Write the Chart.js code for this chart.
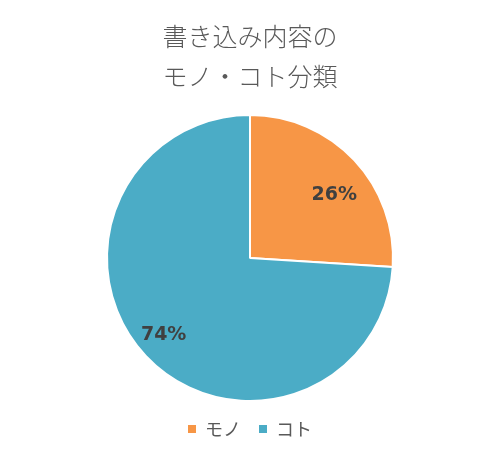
<!DOCTYPE html>
<html><head><meta charset="utf-8">
<script src="https://cdn.jsdelivr.net/npm/chart.js@4"></script>
<style>html,body{margin:0;padding:0;background:#fff}#wrap{width:500px;height:460px}</style>
</head><body><div id="wrap"><canvas id="c"></canvas></div>
<script>
const categories = ['モノ', 'コト'];
const values = [26, 74];
const colors = ['#F79646', '#4BACC6'];
const titleLines = ['書き込み内容の', 'モノ・コト分類'];
const jpFont = "'Noto Sans CJK JP', 'Noto Sans', sans-serif";

const labelPlugin = {
  id: 'sliceLabels',
  afterDatasetsDraw(chart) {
    const ctx = chart.ctx;
    const meta = chart.getDatasetMeta(0);
    const total = values.reduce((a, b) => a + b, 0);
    ctx.save();
    ctx.font = "bold 19px 'DejaVu Sans', sans-serif";
    ctx.fillStyle = '#404040';
    ctx.textAlign = 'center';
    ctx.textBaseline = 'middle';
    meta.data.forEach((arc, i) => {
      const p = arc.getProps(['x', 'y', 'startAngle', 'endAngle', 'outerRadius'], true);
      const mid = (p.startAngle + p.endAngle) / 2 + 4 * Math.PI / 180;
      const r = p.outerRadius * 0.77;
      const pct = Math.round(values[i] / total * 100) + '%';
      ctx.fillText(pct, p.x - 1 + Math.cos(mid) * r, p.y + 7 + Math.sin(mid) * r);
    });
    ctx.restore();
  }
};

new Chart(document.getElementById('c'), {
  type: 'pie',
  data: {
    labels: categories,
    datasets: [{
      data: values,
      backgroundColor: colors,
      borderColor: '#ffffff',
      borderWidth: 2
    }]
  },
  options: {
    responsive: true,
    maintainAspectRatio: false,
    animation: false,
    layout: { padding: { top: 0, bottom: 12 } },
    plugins: {
      title: {
        display: true,
        text: titleLines,
        color: '#595959',
        font: { family: jpFont, size: 25, weight: 300, lineHeight: 40 / 25 },
        padding: { top: 16, bottom: 18 }
      },
      legend: {
        position: 'bottom',
        labels: {
          color: '#595959',
          font: { family: jpFont, size: 18 },
          boxWidth: 8,
          boxHeight: 8,
          padding: 18,
          generateLabels(chart) {
            return categories.map((c, i) => ({
              text: c,
              fillStyle: colors[i],
              strokeStyle: colors[i],
              lineWidth: 0,
              fontColor: '#595959',
              index: i,
              hidden: false
            }));
          }
        }
      },
      tooltip: { enabled: false }
    }
  },
  plugins: [labelPlugin]
});
</script></body></html>
